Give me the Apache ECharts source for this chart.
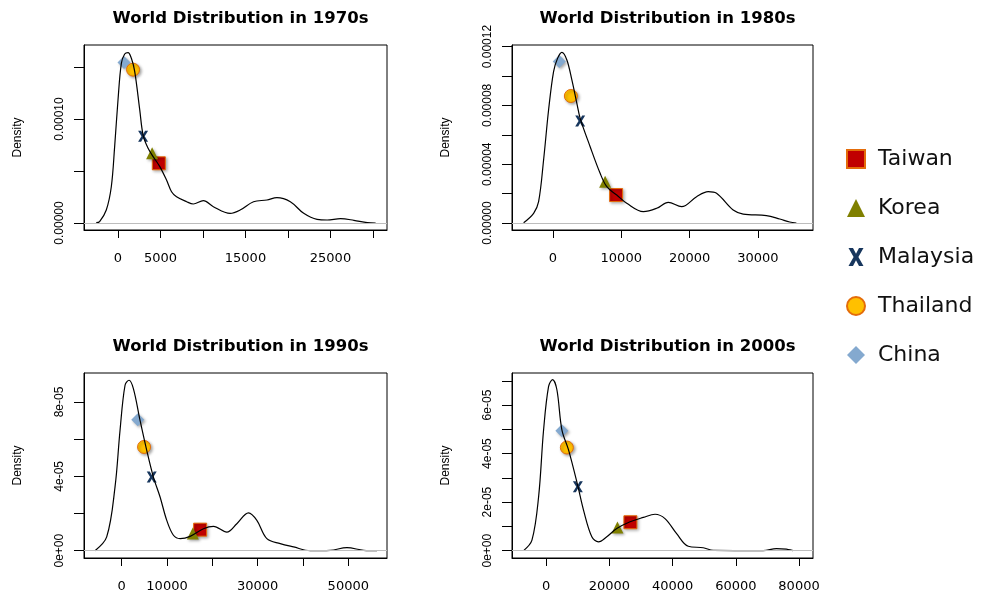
<!DOCTYPE html>
<html>
<head>
<meta charset="utf-8">
<title>World Distribution</title>
<script src="https://cdn.jsdelivr.net/npm/echarts@6/dist/echarts.min.js"></script>
<style>
    html, body { margin: 0; padding: 0; background: #fff; }
    #chart { width: 997px; height: 595px; }
</style>
</head>
<body>
<div id="chart"></div>
<script>
const decades = ["1970s", "1980s", "1990s", "2000s"]

// density curves, [income, density]
const density1970 = [
    [-2559, 0.03e-5], [-2165, 0.13e-5], [-1378, 1.25e-5], [-787, 3.49e-5], [-394, 7.34e-5],
    [0, 11.83e-5], [394, 15.35e-5], [787, 16.25e-5], [1181, 16.38e-5], [1575, 15.83e-5],
    [1969, 14.55e-5], [2559, 10.87e-5], [2953, 8.46e-5], [3543, 7.18e-5], [4134, 6.38e-5],
    [4921, 5.42e-5], [5709, 4.13e-5], [6299, 3.01e-5], [6890, 2.53e-5], [8071, 2.05e-5],
    [8858, 1.83e-5], [10039, 2.15e-5], [11220, 1.57e-5], [13189, 0.93e-5], [14370, 1.25e-5],
    [15945, 2.05e-5], [17520, 2.21e-5], [18701, 2.44e-5], [20276, 2.05e-5], [21850, 0.93e-5],
    [23425, 0.35e-5], [24606, 0.29e-5], [26181, 0.42e-5], [27756, 0.26e-5], [29331, 0.03e-5],
    [30315, 0],
]
const density1980 = [
    [-4282, 0.02e-5], [-2822, 0.66e-5], [-2092, 1.45e-5], [-1363, 4.29e-5], [-633, 7.69e-5],
    [97, 10.3e-5], [681, 11.2e-5], [1314, 11.61e-5], [2044, 11.09e-5], [2774, 9.73e-5],
    [3504, 8.14e-5], [3990, 7.12e-5], [5450, 5.19e-5], [6910, 3.38e-5], [7883, 2.47e-5],
    [9343, 1.9e-5], [10803, 1.34e-5], [13236, 0.77e-5], [15182, 1.0e-5], [16886, 1.41e-5],
    [18832, 1.11e-5], [21022, 1.79e-5], [22725, 2.13e-5], [23942, 2.02e-5], [26375, 0.88e-5],
    [27835, 0.61e-5], [31241, 0.5e-5], [33187, 0.27e-5], [34647, 0.07e-5], [35620, 0],
]
const density1990 = [
    [-5891, 0], [-3314, 0.74e-5], [-1473, 3.43e-5], [-368, 6.48e-5], [736, 8.9e-5],
    [1620, 9.17e-5], [2577, 8.72e-5], [4050, 7.01e-5], [5523, 5.4e-5], [6996, 3.96e-5],
    [8468, 2.89e-5], [9941, 1.63e-5], [11414, 0.83e-5], [12887, 0.65e-5], [15096, 0.77e-5],
    [18041, 1.18e-5], [20250, 1.31e-5], [23196, 1.0e-5], [25405, 1.45e-5], [27982, 2.03e-5],
    [29823, 1.63e-5], [32032, 0.65e-5], [34978, 0.38e-5], [37923, 0.2e-5], [41605, 0],
    [46024, 0.02e-5], [49705, 0.16e-5], [53387, 0.02e-5], [56333, 0],
]
const density2000 = [
    [-7158, 0], [-4526, 0.43e-5], [-2421, 2.22e-5], [-842, 4.98e-5], [737, 6.77e-5],
    [2000, 7.05e-5], [3368, 6.63e-5], [4947, 4.98e-5], [7053, 4.15e-5], [10000, 2.66e-5],
    [11789, 1.67e-5], [14421, 0.57e-5], [16526, 0.36e-5], [19158, 0.57e-5], [22316, 0.91e-5],
    [26526, 1.19e-5], [30737, 1.37e-5], [34421, 1.5e-5], [37579, 1.32e-5], [41263, 0.7e-5],
    [44947, 0.18e-5], [49684, 0.12e-5], [52842, 0.01e-5], [68632, 0], [72842, 0.08e-5],
    [76000, 0.06e-5], [78105, 0],
]

// country markers, one point per decade
const taiwan   = [[4803, 5.74e-5], [9246, 1.9e-5], [17305, 1.13e-5], [26632, 1.17e-5]]
const korea    = [[4016, 6.7e-5], [7640, 2.81e-5], [15685, 0.92e-5], [22526, 0.95e-5]]
const malaysia = [[2953, 8.33e-5], [3990, 6.94e-5], [6627, 3.96e-5], [10000, 2.63e-5]]
const thailand = [[1772, 14.74e-5], [2628, 8.64e-5], [4934, 5.58e-5], [6526, 4.25e-5]]
const china    = [[709, 15.42e-5], [925, 10.98e-5], [3535, 7.05e-5], [4947, 4.94e-5]]

// axis ranges, ticks and labelled ticks per decade
const xRanges = [[-4000, 31650], [-5985, 38054], [-8321, 58542], [-10842, 84421]]
const yRanges = [[-0.67e-5, 17.11e-5], [-0.476e-5, 12.11e-5], [-0.395e-5, 9.56e-5], [-0.303e-5, 7.32e-5]]
const xTicks = [
    [0, 5000, 10000, 15000, 20000, 25000, 30000],
    [0, 10000, 20000, 30000],
    [0, 10000, 20000, 30000, 40000, 50000],
    [0, 20000, 40000, 60000, 80000],
]
const xLabels = [
    [0, 5000, 15000, 25000],
    [0, 10000, 20000, 30000],
    [0, 10000, 30000, 50000],
    [0, 20000, 40000, 60000, 80000],
]
const yTicks = [
    [0, 5e-5, 10e-5, 15e-5],
    [0, 2e-5, 4e-5, 6e-5, 8e-5, 10e-5, 12e-5],
    [0, 2e-5, 4e-5, 6e-5, 8e-5],
    [0, 1e-5, 2e-5, 3e-5, 4e-5, 5e-5, 6e-5, 7e-5],
]
const yLabels = [
    [0, 10e-5],
    [0, 4e-5, 8e-5, 12e-5],
    [0, 4e-5, 8e-5],
    [0, 2e-5, 4e-5, 6e-5],
]

const curves = [density1970, density1980, density1990, density2000]
const boxes = [
    { left: 84, top: 45, width: 303, height: 185 },
    { left: 512, top: 45, width: 301, height: 185 },
    { left: 84, top: 373, width: 303, height: 185 },
    { left: 512, top: 373, width: 301, height: 185 },
]

const xMark = "path://M0,0L3,0L5,3.8L7,0L10,0L6.6,6L10,12L7,12L5,8.2L3,12L0,12L3.4,6Z"
const shadow = {
    opacity: 1,
    shadowBlur: 3,
    shadowColor: "rgba(0,0,0,0.35)",
    shadowOffsetX: 1.5,
    shadowOffsetY: 1.5,
}
// drawing order: Korea sits over Taiwan, Thailand over China
const countries = [
    { name: "China", pts: china, symbol: "diamond", size: 13,
        style: { color: "#84a9cf", ...shadow } },
    { name: "Thailand", pts: thailand, symbol: "circle", size: 13,
        style: { color: "#ffc000", borderColor: "#e46c0a", borderWidth: 1, ...shadow } },
    { name: "Malaysia", pts: malaysia, symbol: xMark, size: [10, 11],
        style: { color: "#17365d", opacity: 1 } },
    { name: "Taiwan", pts: taiwan, symbol: "rect", size: 13,
        style: { color: "#c00000", borderColor: "#e46c0a", borderWidth: 1, ...shadow } },
    { name: "Korea", pts: korea, symbol: "triangle", size: 12,
        style: { color: "#808000", ...shadow } },
]

// R style numbers on the y axis
function fmtExp(v) {
    if (v === 0) return "0e+00"
    const e = Math.floor(Math.log10(v) + 1e-9)
    const m = Math.round(v / Math.pow(10, e))
    return m + "e-" + String(-e).padStart(2, "0")
}
const yFormat = [
    v => v.toFixed(5),
    v => v.toFixed(5),
    fmtExp,
    fmtExp,
]

const axisFont = "'Liberation Sans', Arial, sans-serif"
const blackLine = { color: "#000", width: 1 }
const chart = echarts.init(document.getElementById("chart"))

const option = {
    animation: false,
    backgroundColor: "#fff",
    title: boxes.map((b, i) => ({
        text: "World Distribution in " + decades[i],
        left: b.left + b.width / 2,
        top: b.top - 40,
        textAlign: "center",
        textStyle: {
            fontFamily: "'DejaVu Sans', sans-serif",
            fontWeight: "bold",
            fontSize: 16.5,
            color: "#000",
        },
    })),
    legend: {
        data: ["Taiwan", "Korea", "Malaysia", "Thailand", "China"],
        orient: "vertical",
        left: 841,
        top: 143,
        itemWidth: 18,
        itemHeight: 18,
        itemGap: 27,
        textStyle: {
            fontFamily: "'DejaVu Sans', sans-serif",
            fontSize: 22,
            color: "#111",
            padding: [0, 0, 0, 8],
        },
    },
    grid: boxes.map(b => ({
        ...b,
        show: true,
        borderColor: "#000",
        borderWidth: 1,
        backgroundColor: "transparent",
    })),
    xAxis: boxes.map((b, i) => ({
        type: "value",
        gridIndex: i,
        position: "bottom",
        min: xRanges[i][0],
        max: xRanges[i][1],
        axisLine: { show: true, onZero: false, lineStyle: blackLine },
        splitLine: { show: false },
        axisTick: {
            show: true,
            inside: false,
            length: 8,
            customValues: xTicks[i],
            lineStyle: blackLine,
        },
        axisLabel: {
            customValues: xLabels[i],
            margin: 22,
            formatter: v => String(v),
            fontFamily: "'DejaVu Sans', sans-serif",
            fontSize: 13,
            color: "#000",
        },
    })),
    yAxis: boxes.map((b, i) => ({
        type: "value",
        gridIndex: i,
        position: "left",
        min: yRanges[i][0],
        max: yRanges[i][1],
        name: "Density",
        nameLocation: "middle",
        nameRotate: 90,
        nameGap: 60,
        nameTextStyle: { fontFamily: axisFont, fontSize: 12, color: "#000" },
        axisLine: { show: true, onZero: false, lineStyle: blackLine },
        splitLine: { show: false },
        axisTick: {
            show: true,
            inside: false,
            length: 10,
            customValues: yTicks[i],
            lineStyle: blackLine,
        },
        axisLabel: {
            customValues: yLabels[i],
            rotate: 90,
            margin: 18,
            formatter: yFormat[i],
            fontFamily: axisFont,
            fontSize: 12,
            color: "#000",
        },
    })),
    series: [],
}

curves.forEach((data, i) => {
    option.series.push({
        type: "line",
        name: "density " + decades[i],
        xAxisIndex: i,
        yAxisIndex: i,
        data: data,
        smooth: 0.35,
        showSymbol: false,
        silent: true,
        lineStyle: { color: "#000", width: 1.2 },
        markLine: {
            silent: true,
            symbol: "none",
            label: { show: false },
            lineStyle: { color: "#bdbdbd", type: "solid", width: 1.2 },
            data: [{ yAxis: 0 }],
        },
    })
})

curves.forEach((_, i) => {
    for (const c of countries) {
        option.series.push({
            type: "scatter",
            name: c.name,
            xAxisIndex: i,
            yAxisIndex: i,
            data: [c.pts[i]],
            symbol: c.symbol,
            symbolSize: c.size,
            itemStyle: c.style,
        })
    }
})

chart.setOption(option)
</script>
</body>
</html>
